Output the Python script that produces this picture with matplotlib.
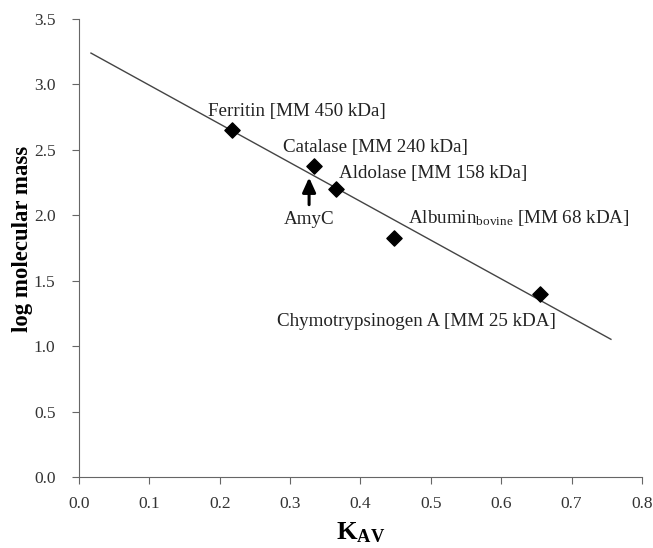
import matplotlib
matplotlib.use("Agg")
import matplotlib.pyplot as plt
import numpy as np

plt.rcParams['font.family'] = ['Liberation Serif', 'DejaVu Serif']
plt.rcParams['mathtext.fontset'] = 'custom'
plt.rcParams['mathtext.rm'] = 'Liberation Serif'
plt.rcParams['mathtext.bf'] = 'Liberation Serif:bold'
plt.rcParams['mathtext.it'] = 'Liberation Serif:italic'

# Data
proteins = ["Ferritin", "Catalase", "Aldolase", "Albumin", "Chymotrypsinogen A"]
kav = [0.217, 0.334, 0.365, 0.448, 0.655]
log_mm = [2.65, 2.38, 2.20, 1.83, 1.40]
labels = [r"Ferritin [MM 450 kDa]",
          r"Catalase [MM 240 kDa]",
          r"Aldolase [MM 158 kDa]",
          r"$\mathregular{Albumin_{bovine}}$ [MM 68 kDA]",
          r"Chymotrypsinogen A [MM 25 kDA]"]
label_pos = [(0.183, 2.79), (0.29, 2.52), (0.37, 2.32), (0.468, 1.98), (0.281, 1.19)]

fit_slope = -2.96
fit_intercept = 3.29
fit_range = [0.017, 0.756]

amyc_kav = 0.327
amyc_tip = 2.31
amyc_tail = 2.06

xticks = [0.0, 0.1, 0.2, 0.3, 0.4, 0.5, 0.6, 0.7, 0.8]
yticks = [0.0, 0.5, 1.0, 1.5, 2.0, 2.5, 3.0, 3.5]

fig = plt.figure(figsize=(6.53, 5.48), dpi=100)
ax = fig.add_axes([0.121, 0.1296, 0.862, 0.8357])

xf = np.array(fit_range)
ax.plot(xf, fit_slope * xf + fit_intercept, color='#444444', lw=1.0)
ax.scatter(kav, log_mm, marker='D', s=60, color='black', zorder=3)

for lab, (lx, ly) in zip(labels, label_pos):
    ax.text(lx, ly, lab, fontsize=13.7, va='center', ha='left', color='#222222')

ax.annotate("", xy=(amyc_kav, amyc_tip), xytext=(amyc_kav, amyc_tail),
            arrowprops=dict(arrowstyle='-|>,head_length=0.55,head_width=0.25',
                            color='black', lw=2.2, mutation_scale=16))
ax.text(amyc_kav, 1.97, "AmyC", fontsize=13.7, ha='center', va='center', color='#222222')

ax.set_xlim(0, 0.8)
ax.set_ylim(0, 3.5)
ax.set_xticks(xticks)
ax.set_yticks(yticks)
ax.set_xticklabels([f"{t:.1f}" for t in xticks])
ax.set_yticklabels([f"{t:.1f}" for t in yticks])
for s in ['top', 'right']:
    ax.spines[s].set_visible(False)
for s in ['left', 'bottom']:
    ax.spines[s].set_color('#666666')
ax.tick_params(direction='out', length=5, colors='#666666', labelcolor='#333333', labelsize=12.5)
ax.tick_params(axis='x', pad=9)
ax.tick_params(axis='y', pad=12)

ax.set_ylabel("log molecular mass", fontsize=16.4, fontweight='bold')
ax.yaxis.set_label_coords(-0.082, 0.52)
ax.set_xlabel(r"$\mathbf{K_{AV}}$", fontsize=19, labelpad=6)

fig.savefig("out.png", dpi=100, facecolor='white')
